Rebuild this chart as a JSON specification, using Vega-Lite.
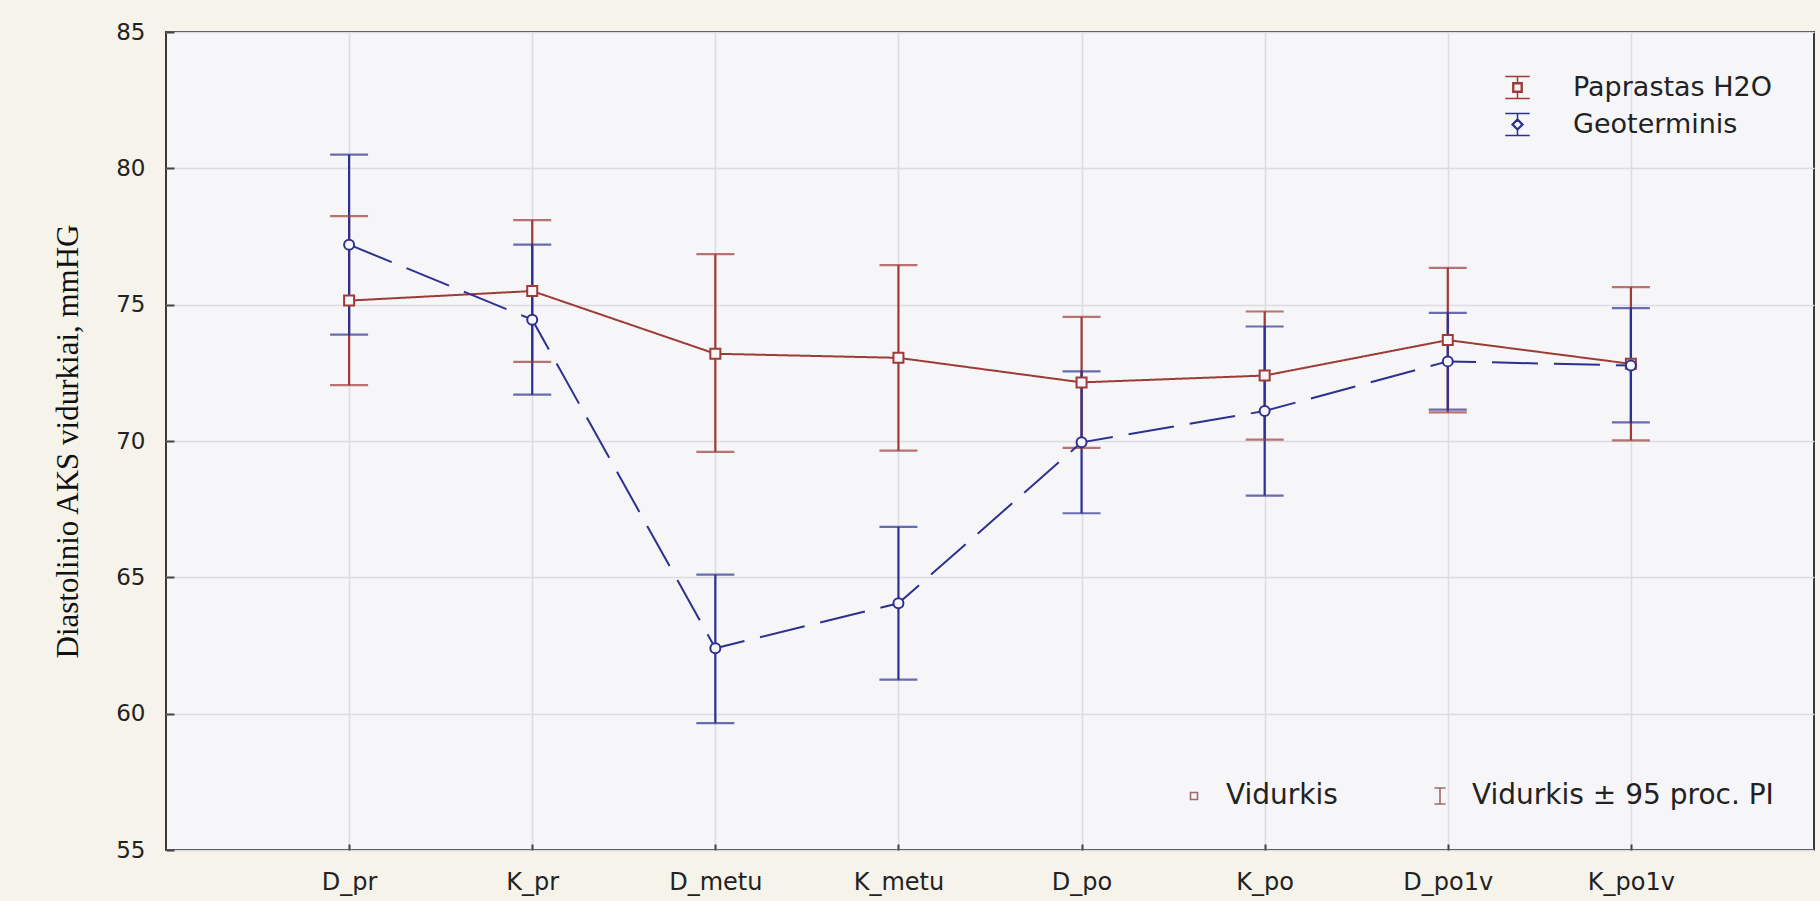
{
  "$schema": "https://vega.github.io/schema/vega-lite/v6.json",
  "background": "#F6F3EA",
  "autosize": {"type": "none"},
  "padding": {"left": 166, "top": 32, "right": 6, "bottom": 51},
  "width": 1648,
  "height": 818,
  "view": {"stroke": "#3A3A3A", "strokeWidth": 2, "fill": "#F6F6F9"},
  "config": {
    "view": {"stroke": "#3A3A3A", "strokeWidth": 2, "fill": "#F6F6F9"},
    "font": "DejaVu Sans",
    "legend": {"symbolBaseStrokeColor": "#A06A6A", "symbolBaseFillColor": "#F6F6F9"}
  },
  "data": {"values": [
    {"t": "D_pr", "group": "Paprastas H2O", "mean": 75.15, "lo": 72.05, "hi": 78.25},
    {"t": "K_pr", "group": "Paprastas H2O", "mean": 75.5, "lo": 72.9, "hi": 78.1},
    {"t": "D_metu", "group": "Paprastas H2O", "mean": 73.2, "lo": 69.6, "hi": 76.85},
    {"t": "K_metu", "group": "Paprastas H2O", "mean": 73.05, "lo": 69.65, "hi": 76.45},
    {"t": "D_po", "group": "Paprastas H2O", "mean": 72.15, "lo": 69.75, "hi": 74.55},
    {"t": "K_po", "group": "Paprastas H2O", "mean": 72.4, "lo": 70.05, "hi": 74.75},
    {"t": "D_po1v", "group": "Paprastas H2O", "mean": 73.7, "lo": 71.05, "hi": 76.35},
    {"t": "K_po1v", "group": "Paprastas H2O", "mean": 72.83, "lo": 70.02, "hi": 75.64},
    {"t": "D_pr", "group": "Geoterminis", "mean": 77.2, "lo": 73.9, "hi": 80.5},
    {"t": "K_pr", "group": "Geoterminis", "mean": 74.45, "lo": 71.7, "hi": 77.2},
    {"t": "D_metu", "group": "Geoterminis", "mean": 62.4, "lo": 59.65, "hi": 65.1},
    {"t": "K_metu", "group": "Geoterminis", "mean": 64.05, "lo": 61.25, "hi": 66.85},
    {"t": "D_po", "group": "Geoterminis", "mean": 69.95, "lo": 67.35, "hi": 72.55},
    {"t": "K_po", "group": "Geoterminis", "mean": 71.1, "lo": 68.0, "hi": 74.2},
    {"t": "D_po1v", "group": "Geoterminis", "mean": 72.92, "lo": 71.15, "hi": 74.7},
    {"t": "K_po1v", "group": "Geoterminis", "mean": 72.77, "lo": 70.68, "hi": 74.87}
  ]},
  "layer": [
    {
      "encoding": {
        "x": {
          "field": "t", "type": "nominal",
          "sort": ["D_pr", "K_pr", "D_metu", "K_metu", "D_po", "K_po", "D_po1v", "K_po1v"],
          "scale": {"type": "point", "padding": 1},
          "axis": {"title": null, "labelAngle": 0, "labelFont": "DejaVu Sans", "labelFontSize": 24, "labelColor": "#222", "tickSize": -6, "tickColor": "#444", "tickWidth": 2, "labelPadding": 26, "domain": false, "grid": true, "gridColor": "#DCDCE2", "gridWidth": 1.5}
        }
      },
      "layer": [
        {
          "mark": {"type": "rule", "strokeWidth": 2.2},
          "encoding": {
            "y": {"field": "lo", "type": "quantitative", "scale": {"domain": [55, 85], "nice": false, "zero": false},
              "axis": {"values": [55, 60, 65, 70, 75, 80, 85], "title": "Diastolinio AKS vidurkiai, mmHG", "titleFont": "Liberation Serif", "titleFontSize": 31, "titleFontWeight": "normal", "titleColor": "#111", "titlePadding": 31, "labelFont": "DejaVu Sans", "labelFontSize": 23, "labelColor": "#222", "labelFlush": false, "tickSize": -8, "tickColor": "#444", "tickWidth": 2, "labelPadding": 29, "domain": false, "grid": true, "gridColor": "#DCDCE2", "gridWidth": 1.5}},
            "y2": {"field": "hi"},
            "color": {"field": "group", "type": "nominal",
              "scale": {"domain": ["Paprastas H2O", "Geoterminis"], "range": ["#9E3B37", "#2E3090"]},
              "legend": {
                "orient": "top-right", "offset": 42, "title": null, "padding": 0,
                "labelFont": "DejaVu Sans", "labelFontSize": 27, "labelColor": "#222", "labelLimit": 0,
                "symbolSize": 600, "symbolFillColor": "#F6F6F9", "symbolStrokeWidth": 1.5,
                "labelOffset": 42, "rowPadding": 8,
                "encode": {"symbols": {"update": {
                  "shape": {"signal": "datum.value === 'Geoterminis' ? 'M-1,-0.9H1M0,-0.9V-0.45M0,0.45V0.9M-1,0.9H1M0,-0.45L0.45,0L0,0.45L-0.45,0ZM0,-0.36L-0.36,0L0,0.36L0.36,0Z' : 'M-1,-0.9H1M0,-0.9V-0.38M0,0.38V0.9M-1,0.9H1M-0.38,-0.38H0.38V0.38H-0.38ZM-0.31,-0.31V0.31H0.31V-0.31Z'"},
                  "fill": {"value": "#F6F6F9"},
                  "strokeDash": {"value": []},
                  "opacity": {"value": 1}
                }}}
              }
            }
          }
        },
        {
          "mark": {"type": "tick", "size": 38, "thickness": 2.2},
          "encoding": {"y": {"field": "lo", "type": "quantitative"}, "color": {"field": "group", "type": "nominal", "legend": null}}
        },
        {
          "mark": {"type": "tick", "size": 38, "thickness": 2.2},
          "encoding": {"y": {"field": "hi", "type": "quantitative"}, "color": {"field": "group", "type": "nominal", "legend": null}}
        },
        {
          "mark": {"type": "line", "strokeWidth": 2},
          "encoding": {
            "y": {"field": "mean", "type": "quantitative"},
            "color": {"field": "group", "type": "nominal", "legend": null},
            "strokeDash": {"field": "group", "type": "nominal", "scale": {"domain": ["Paprastas H2O", "Geoterminis"], "range": [[1, 0], [46, 16]]}, "legend": null}
          }
        },
        {
          "mark": {"type": "point", "filled": true, "fill": "#F7F7FB", "size": 100, "strokeWidth": 2, "opacity": 1},
          "encoding": {
            "y": {"field": "mean", "type": "quantitative"},
            "stroke": {"field": "group", "type": "nominal",
              "scale": {"domain": ["Paprastas H2O", "Geoterminis"], "range": ["#9E3B37", "#2E3090"]},
              "legend": null},
            "shape": {"condition": {"test": "datum.group === 'Geoterminis'", "value": "circle"}, "value": "square"}
          }
        }
      ]
    },
    {
      "data": {"values": [{"item": "Vidurkis"}, {"item": "Vidurkis ± 95 proc. PI"}]},
      "mark": {"type": "point", "opacity": 0},
      "encoding": {
        "shape": {"field": "item", "type": "nominal",
          "scale": {"domain": ["Vidurkis", "Vidurkis ± 95 proc. PI"], "range": ["M-0.35,-0.35H0.35V0.35H-0.35Z", "M-0.55,-0.8H0.55M0,-0.8V0.8M-0.55,0.8H0.55"]},
          "legend": {
            "orient": "bottom-right", "direction": "horizontal", "offset": 40, "title": null, "padding": 0,
            "labelFont": "DejaVu Sans", "labelFontSize": 28, "labelColor": "#222", "labelLimit": 0,
            "symbolSize": 400, "symbolStrokeColor": "#A06A6A", "symbolFillColor": "#F6F6F9", "symbolStrokeWidth": 1.6, "symbolOpacity": 1,
            "labelOffset": 18, "columnPadding": 88,
            "encode": {"symbols": {"update": {
              "fill": {"value": "#F6F6F9"},
              "stroke": {"value": "#A06A6A"},
              "opacity": {"value": 1}
            }}}
          }
        }
      }
    }
  ]
}
